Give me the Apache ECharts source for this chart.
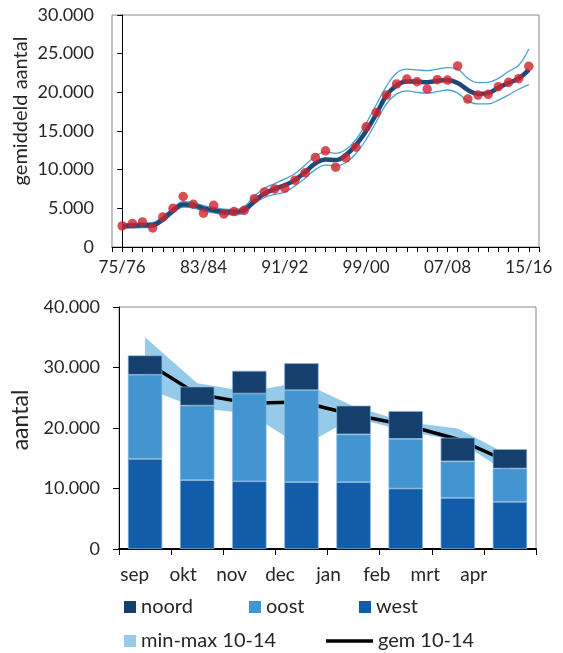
<!DOCTYPE html>
<html>
<head>
<meta charset="utf-8">
<script src="https://cdn.jsdelivr.net/npm/echarts@6/dist/echarts.min.js"></script>
<style>
  html, body { margin: 0; padding: 0; background: #fff; }
  #chart { width: 563px; height: 653px; }
</style>
</head>
<body>
<div id="chart"></div>
<script>
// top chart: seasonal averages 75/76 - 15/16
const seasons = ['75/76', '76/77', '77/78', '78/79', '79/80', '80/81', '81/82', '82/83',
  '83/84', '84/85', '85/86', '86/87', '87/88', '88/89', '89/90', '90/91',
  '91/92', '92/93', '93/94', '94/95', '95/96', '96/97', '97/98', '98/99',
  '99/00', '00/01', '01/02', '02/03', '03/04', '04/05', '05/06', '06/07',
  '07/08', '08/09', '09/10', '10/11', '11/12', '12/13', '13/14', '14/15', '15/16'];
const counts = [2720, 3030, 3240, 2460, 3890, 5010, 6530, 5530, 4370, 5400, 4270, 4580, 4750,
  6250, 7120, 7510, 7600, 8640, 9590, 11580, 12440, 10320, 11530, 12910, 15540, 17380,
  19650, 21080, 21720, 21370, 20430, 21630, 21590, 23410, 19130, 19650, 19740, 20730,
  21300, 21760, 23370];
const trend = [2700, 2750, 2800, 2850, 3600, 4700, 5500, 5400, 5000, 4750, 4550, 4500, 4800,
  5900, 6900, 7500, 8000, 8650, 9700, 10800, 11300, 11250, 11900, 13200, 15000, 17200,
  19600, 20900, 21400, 21400, 21300, 21500, 21600, 21200, 20300, 19800, 19900, 20600,
  21200, 21800, 22900];
const upper = [3000, 3050, 3100, 3150, 3950, 5050, 5850, 5750, 5350, 5100, 4900, 4850, 5200,
  6600, 7600, 8200, 8800, 9500, 10600, 11700, 12300, 12100, 12600, 13900, 16000, 18400,
  20800, 22500, 23000, 22900, 22800, 23000, 23200, 23000, 21800, 21250, 21300, 21800,
  22700, 23500, 25600];
const lower = [2400, 2450, 2500, 2550, 3250, 4350, 5150, 5050, 4650, 4400, 4200, 4150, 4400,
  5600, 6400, 6800, 7100, 7900, 8900, 10000, 10600, 10500, 10900, 12100, 13900, 16200,
  18500, 19800, 20200, 20000, 19900, 20100, 20300, 19900, 18900, 18500, 18500, 19000,
  19650, 20400, 21000];

// bottom chart: per month
const months = ['sep', 'okt', 'nov', 'dec', 'jan', 'feb', 'mrt', 'apr'];
const west = [14900, 11400, 11200, 11050, 11050, 10000, 8450, 7800];
const oost = [13900, 12300, 14500, 15200, 7900, 8200, 6050, 5500];
const noord = [3200, 3150, 3750, 4450, 4750, 4600, 3900, 3200];
const gem = [31000, 25600, 24100, 24300, 22200, 20500, 18150, 14300];
const bandMin = [26600, 23300, 22400, 16900, 21700, 19500, 17900, 12400];
const bandMax = [35000, 27400, 26000, 27600, 23600, 21000, 19900, 15400];

const FONT = 'Lato, "Open Sans", sans-serif';
const TXT = '#262626';

function thousands(v) {
  return String(v).replace(/\B(?=(\d{3})+(?!\d))/g, '.');
}
function pairs(arr) {
  return arr.map((v, i) => [i, v]);
}

const chart = echarts.init(document.getElementById('chart'), null, { renderer: 'canvas' });

const axisBlack = { show: true, lineStyle: { color: '#000', width: 1 } };
const legendText = { fontFamily: FONT, fontSize: 20, color: TXT };

function legendItem(name, left, top, extra) {
  return Object.assign({
    data: [{ name: name, icon: 'rect' }],
    left: left, top: top, padding: 0,
    itemWidth: 12, itemHeight: 12,
    itemStyle: { borderWidth: 0 },
    textStyle: legendText,
    selectedMode: false
  }, extra || {});
}

chart.setOption({
  animation: false,
  textStyle: { fontFamily: FONT },
  grid: [
    { left: 112, top: 15, width: 427, height: 232, show: true, borderColor: '#8a8a8a', borderWidth: 1 },
    { left: 119, top: 307, width: 417, height: 242, show: true, borderColor: '#8a8a8a', borderWidth: 1 },
    { left: 110.6, top: 307, width: 387.3, height: 242 }
  ],
  xAxis: [
    {
      type: 'value', gridIndex: 0, min: -1, max: 41, interval: 1,
      axisLine: axisBlack,
      axisTick: { show: true, length: 5, lineStyle: { color: '#000' } },
      splitLine: { show: false },
      axisLabel: {
        margin: 12, fontSize: 17, color: TXT, fontFamily: FONT,
        formatter: v => (v >= 0 && v % 8 === 0) ? seasons[v] : ''
      }
    },
    {
      type: 'category', gridIndex: 1, data: months,
      axisLine: { show: true, lineStyle: { color: '#000', width: 2 } },
      axisTick: { show: true, length: 6, lineStyle: { color: '#000' } },
      axisLabel: { show: false }
    },
    {
      type: 'category', gridIndex: 2, data: months,
      axisLine: { show: false }, axisTick: { show: false },
      axisLabel: { margin: 16, fontSize: 19, color: TXT, fontFamily: FONT }
    }
  ],
  yAxis: [
    {
      type: 'value', gridIndex: 0, min: 0, max: 30000, interval: 5000,
      axisLine: axisBlack,
      axisTick: { show: true, length: 5, lineStyle: { color: '#000' } },
      splitLine: { show: false },
      axisLabel: { margin: 18, fontSize: 18, color: TXT, fontFamily: FONT, formatter: thousands }
    },
    {
      type: 'value', gridIndex: 1, min: 0, max: 40000, interval: 10000,
      axisLine: axisBlack,
      axisTick: { show: true, length: 6, lineStyle: { color: '#000' } },
      splitLine: { show: false },
      axisLabel: { margin: 19, fontSize: 18, color: TXT, fontFamily: FONT, formatter: thousands }
    },
    { type: 'value', gridIndex: 2, min: 0, max: 1, show: false }
  ],
  legend: [
    legendItem('noord', 124, 597),
    legendItem('oost', 249, 597),
    legendItem('west', 359, 597),
    legendItem('min-max 10-14', 124, 631),
    legendItem('gem 10-14', 326, 631, {
      itemWidth: 47, itemHeight: 3.5, itemStyle: { color: '#000', borderWidth: 0 }
    })
  ],
  graphic: [
    {
      type: 'text', x: 21, y: 111, rotation: Math.PI / 2,
      style: { text: 'gemiddeld aantal', fontSize: 20, fontFamily: FONT, fill: TXT, align: 'center', verticalAlign: 'middle' }
    },
    {
      type: 'text', x: 21, y: 420, rotation: Math.PI / 2,
      style: { text: 'aantal', fontSize: 23, fontFamily: FONT, fill: TXT, align: 'center', verticalAlign: 'middle' }
    }
  ],
  series: [
    // top chart
    {
      name: 'max', type: 'line', xAxisIndex: 0, yAxisIndex: 0, data: pairs(upper),
      smooth: 0.4, symbol: 'none', lineStyle: { color: '#47a3cf', width: 1.3 }, z: 2
    },
    {
      name: 'min', type: 'line', xAxisIndex: 0, yAxisIndex: 0, data: pairs(lower),
      smooth: 0.4, symbol: 'none', lineStyle: { color: '#47a3cf', width: 1.3 }, z: 2
    },
    {
      name: 'trend', type: 'line', xAxisIndex: 0, yAxisIndex: 0, data: pairs(trend),
      smooth: 0.4, symbol: 'none', lineStyle: { color: '#1b4a7a', width: 4.5 }, z: 3
    },
    {
      name: 'gemiddeld', type: 'scatter', xAxisIndex: 0, yAxisIndex: 0, data: pairs(counts),
      symbolSize: 9.5, itemStyle: { color: '#cf222d' }, z: 4
    },
    // bottom chart
    {
      name: 'band-base', type: 'line', xAxisIndex: 1, yAxisIndex: 1, stack: 'band',
      data: bandMin, symbol: 'none', lineStyle: { opacity: 0 }, silent: true, z: 1
    },
    {
      name: 'min-max 10-14', type: 'line', xAxisIndex: 1, yAxisIndex: 1, stack: 'band',
      data: bandMax.map((v, i) => v - bandMin[i]), symbol: 'none',
      lineStyle: { opacity: 0 }, itemStyle: { color: '#95cbe8' },
      areaStyle: { color: '#95cbe8', opacity: 1 }, z: 1
    },
    {
      name: 'gem 10-14', type: 'line', xAxisIndex: 1, yAxisIndex: 1, data: gem,
      symbol: 'none', itemStyle: { color: '#000' }, lineStyle: { color: '#000', width: 3.5 }, z: 1.5
    },
    {
      name: 'west', type: 'bar', xAxisIndex: 1, yAxisIndex: 1, stack: 'tot', data: west,
      barWidth: '66%', itemStyle: { color: '#125da9', borderColor: '#8fb4d9', borderWidth: 0.7 }, z: 2
    },
    {
      name: 'oost', type: 'bar', xAxisIndex: 1, yAxisIndex: 1, stack: 'tot', data: oost,
      barWidth: '66%', itemStyle: { color: '#4395d1', borderColor: '#8fb4d9', borderWidth: 0.7 }, z: 2
    },
    {
      name: 'noord', type: 'bar', xAxisIndex: 1, yAxisIndex: 1, stack: 'tot', data: noord,
      barWidth: '66%', itemStyle: { color: '#153f6c', borderColor: '#8fb4d9', borderWidth: 0.7 }, z: 2
    }
  ]
});
</script>
</body>
</html>
